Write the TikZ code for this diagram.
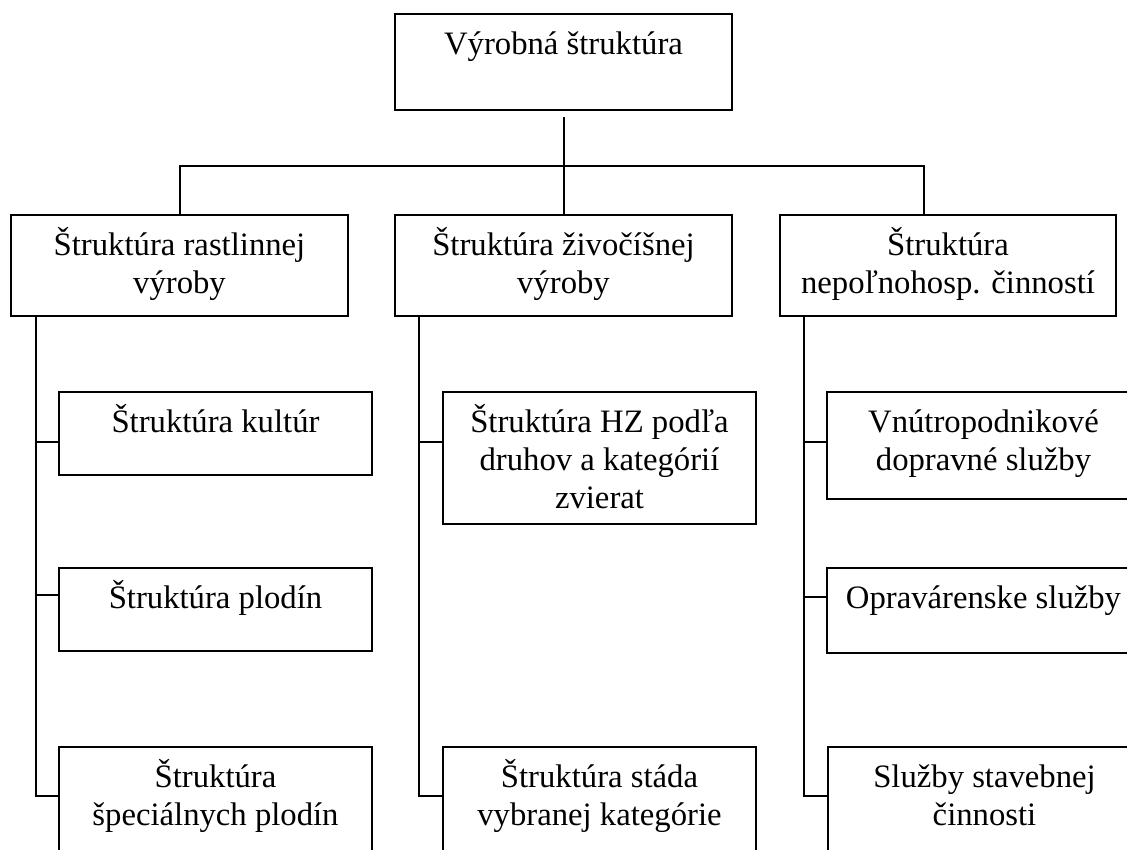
\documentclass[tikz,border=0pt]{standalone}
\usepackage{fontspec}
\setmainfont{Liberation Serif}
% box contents: width, height, text lines (first baseline 41pt below the top edge)
\newcommand\cellbox[3]{\parbox[c][#2][t]{#1}{\centering\rule{0pt}{40pt}#3\par}}
\tikzset{
  orgbox/.style={draw, line width=2pt, inner sep=0pt, anchor=north west,
    font=\fontsize{32.7pt}{38pt}\selectfont},
  link/.style={line width=2pt}
}
\begin{document}
\begin{tikzpicture}[x=1pt,y=1pt]
\useasboundingbox (0,0) rectangle (1127,-849);
\clip (0,0) rectangle (1127,-849);

% root
\node[orgbox] (T) at (394,-13) {\cellbox{337pt}{96pt}{Výrobná štruktúra}};

% second level
\node[orgbox] (A) at (10,-214)  {\cellbox{337pt}{101pt}{Štruktúra rastlinnej\\výroby}};
\node[orgbox] (B) at (394,-214) {\cellbox{337pt}{101pt}{Štruktúra živočíšnej\\výroby}};
\node[orgbox] (C) at (779,-214) {\cellbox{336pt}{101pt}{Štruktúra\\nepoľnohosp. činností}};

% third level, plant production
\node[orgbox] (L1) at (58,-391) {\cellbox{313pt}{83pt}{Štruktúra kultúr}};
\node[orgbox] (L2) at (58,-567) {\cellbox{313pt}{83pt}{Štruktúra plodín}};
\node[orgbox] (L3) at (58,-746) {\cellbox{313pt}{132pt}{Štruktúra\\špeciálnych plodín}};

% third level, animal production
\node[orgbox] (M1) at (442,-391) {\cellbox{313pt}{132pt}{Štruktúra HZ podľa\\druhov a kategórií\\zvierat}};
\node[orgbox] (M2) at (442,-746) {\cellbox{313pt}{132pt}{Štruktúra stáda\\vybranej kategórie}};

% third level, non-agricultural activities
\node[orgbox] (R1) at (826,-391) {\cellbox{313pt}{107pt}{Vnútropodnikové\\dopravné služby}};
\node[orgbox] (R2) at (826,-567) {\cellbox{313pt}{85pt}{Opravárenske služby}};
\node[orgbox] (R3) at (827,-746) {\cellbox{313pt}{132pt}{Služby stavebnej\\činnosti}};

% root to second level
\coordinate (bus) at (563,-166);
\draw[link] ([yshift=-6pt]T.south) -- (B.north);
\draw[link] (A.north) |- (bus) -| ([xshift=-24pt]C.north);

% side spines
\coordinate (sA) at ([xshift=-144pt]A.south);
\coordinate (sB) at ([xshift=-144.5pt]B.south);
\coordinate (sC) at ([xshift=-144pt]C.south);

\draw[link] (sA) |- ([yshift=-50pt]L3.north west);
\draw[link] ([yshift=-8.5pt]L1.west) -| (sA);
\draw[link] ([yshift=14.5pt]L2.west) -| (sA);

\draw[link] (sB) |- ([yshift=-50pt]M2.north west);
\draw[link] ([yshift=16pt]M1.west) -| (sB);

\draw[link] (sC) |- ([yshift=-50pt]R3.north west);
\draw[link] ([yshift=3.5pt]R1.west) -| (sC);
\draw[link] ([yshift=13.5pt]R2.west) -| (sC);
\end{tikzpicture}
\end{document}
